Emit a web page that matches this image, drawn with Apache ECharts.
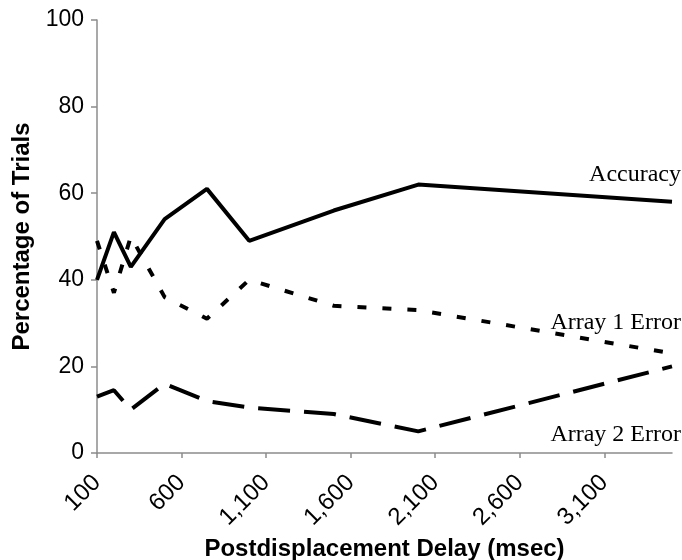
<!DOCTYPE html>
<html>
<head>
<meta charset="utf-8">
<script src="https://cdn.jsdelivr.net/npm/echarts@6/dist/echarts.min.js"></script>
<style>
    html, body { margin: 0; padding: 0; background: #fff; }
    #chart { width: 682px; height: 560px; }
</style>
</head>
<body>
<div id="chart"></div>
<script>
    // delays in msec
    const delays = [100, 200, 300, 500, 750, 1000, 1500, 2000, 3500];
    const accuracy = [40, 51, 43, 54, 61, 49, 56, 62, 58];
    const array1Error = [49, 37, 50, 36, 31, 40, 34, 33, 23];
    const array2Error = [13, 14.5, 10, 16, 12, 10.5, 9, 5, 20];

    const xTicks = [100, 600, 1100, 1600, 2100, 2600, 3100];
    const yTicks = [0, 20, 40, 60, 80, 100];
    const seriesNames = ['Accuracy', 'Array 1 Error', 'Array 2 Error'];

    const pairs = (ys) => delays.map((d, i) => [d, ys[i]]);

    const axisGrey = '#8c8c8c';
    const sans = '"Liberation Sans", Arial, sans-serif';
    const serif = '"Liberation Serif", "Times New Roman", serif';

    const chart = echarts.init(document.getElementById('chart'));
    chart.setOption({
        animation: false,
        grid: { left: 97, right: 10, top: 20, bottom: 107, outerBoundsMode: 'none' },
        xAxis: {
            type: 'value',
            min: 100,
            max: 3500,
            splitLine: { show: false },
            axisLine: { show: true, lineStyle: { color: axisGrey, width: 1.5 } },
            axisTick: { show: true, length: 5, customValues: xTicks, lineStyle: { color: axisGrey, width: 1.5 } },
            axisLabel: {
                customValues: xTicks,
                rotate: 45,
                margin: 26,
                color: '#000',
                fontFamily: sans,
                fontSize: 24,
                formatter: v => v.toLocaleString('en-US')
            },
            name: 'Postdisplacement Delay (msec)',
            nameLocation: 'middle',
            nameGap: 80,
            nameTextStyle: { color: '#000', fontFamily: sans, fontSize: 24, fontWeight: 'bold' }
        },
        yAxis: {
            type: 'value',
            min: 0,
            max: 100,
            splitLine: { show: false },
            axisLine: { show: true, lineStyle: { color: axisGrey, width: 1.5 } },
            axisTick: { show: true, length: 6, customValues: yTicks, lineStyle: { color: axisGrey, width: 1.5 } },
            axisLabel: {
                customValues: yTicks,
                margin: 13,
                color: '#000',
                fontFamily: sans,
                fontSize: 23
            },
            name: 'Percentage of Trials',
            nameLocation: 'middle',
            nameGap: 60,
            nameTextStyle: { color: '#000', fontFamily: sans, fontSize: 24, fontWeight: 'bold' }
        },
        series: [
            {
                name: seriesNames[0],
                type: 'line',
                data: pairs(accuracy),
                symbol: 'none',
                lineStyle: { color: '#000', width: 4, type: 'solid' }
            },
            {
                name: seriesNames[1],
                type: 'line',
                data: pairs(array1Error),
                symbol: 'none',
                lineStyle: { color: '#000', width: 4, type: [9, 16] }
            },
            {
                name: seriesNames[2],
                type: 'line',
                data: pairs(array2Error),
                symbol: 'none',
                lineStyle: { color: '#000', width: 4, type: [32, 14] }
            }
        ],
        graphic: [
            { type: 'text', right: 1, top: 163, style: { text: seriesNames[0], fill: '#000', font: '24px ' + serif } },
            { type: 'text', right: 1, top: 311, style: { text: seriesNames[1], fill: '#000', font: '24px ' + serif } },
            { type: 'text', right: 1, top: 423, style: { text: seriesNames[2], fill: '#000', font: '24px ' + serif } }
        ]
    });
</script>
</body>
</html>
